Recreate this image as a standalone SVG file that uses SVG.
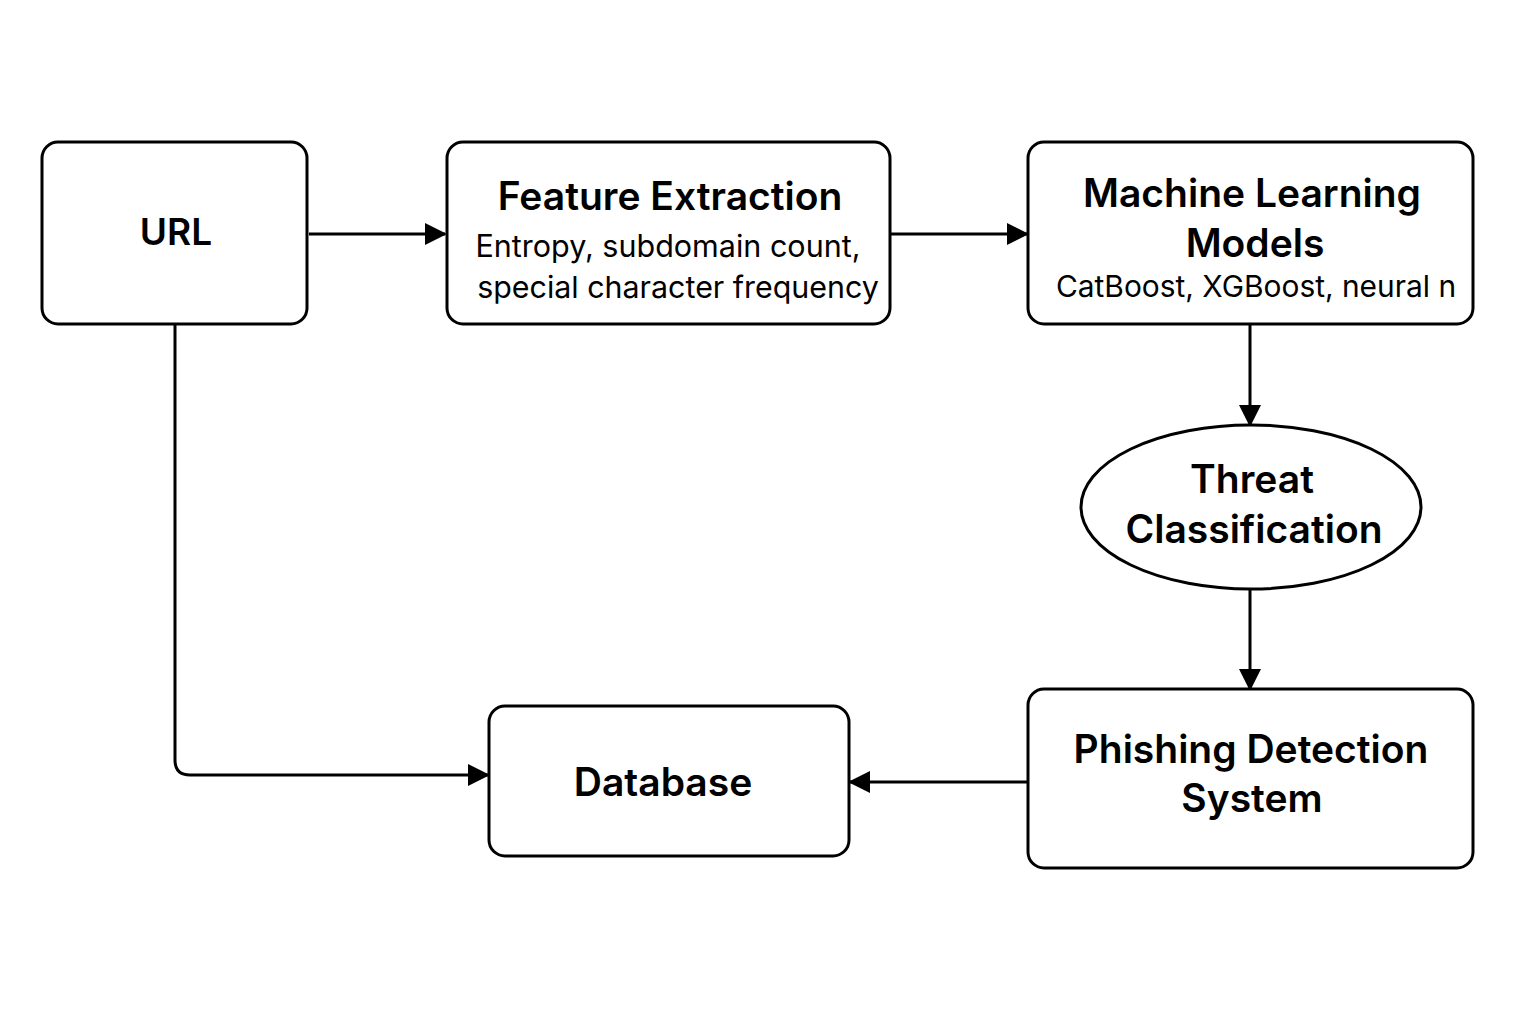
<svg xmlns="http://www.w3.org/2000/svg" width="1536" height="1024" viewBox="0 0 1536 1024">
<style>
.box{fill:#fff;stroke:#000;stroke-width:3}
.t{font-family:Inter,"Liberation Sans",sans-serif;font-weight:600;fill:#000;text-anchor:middle}
.s{font-family:Inter,"Liberation Sans",sans-serif;font-weight:400;fill:#000;text-anchor:middle}
.c{fill:none;stroke:#000;stroke-width:3}
</style>
<defs>
<marker id="ah" markerWidth="22" markerHeight="22" refX="20" refY="11" orient="auto" markerUnits="userSpaceOnUse">
<path d="M0,0 L22,11 L0,22 z" fill="#000"/>
</marker>
</defs>
<rect width="1536" height="1024" fill="#fff"/>
<g id="connectors">
<path class="c" d="M309,234 H445" marker-end="url(#ah)"/>
<path class="c" d="M891,234 H1027" marker-end="url(#ah)"/>
<path class="c" d="M1250,325 V425" marker-end="url(#ah)"/>
<path class="c" d="M1250,590 V689" marker-end="url(#ah)"/>
<path class="c" d="M1027,782 H850" marker-end="url(#ah)"/>
<path class="c" d="M175,325 V760 Q175,775 190,775 H488" marker-end="url(#ah)"/>
</g>
<g id="url">
<rect class="box" x="42" y="142" width="265" height="182" rx="16"/>
<text class="t" x="176" y="245" font-size="37">URL</text>
</g>
<g id="feature-extraction">
<rect class="box" x="447" y="142" width="443" height="182" rx="16"/>
<text class="t" x="670" y="210" font-size="39">Feature Extraction</text>
<text class="s" x="668" y="257" font-size="30.5">Entropy, subdomain count,</text>
<text class="s" x="678" y="298" font-size="30.4">special character frequency</text>
</g>
<g id="ml-models">
<rect class="box" x="1028" y="142" width="445" height="182" rx="16"/>
<text class="t" x="1252" y="207" font-size="39">Machine Learning</text>
<text class="t" x="1255" y="257" font-size="39">Models</text>
<text class="s" x="1256" y="297" font-size="29.9">CatBoost, XGBoost, neural n</text>
</g>
<g id="threat-classification">
<ellipse class="box" cx="1251" cy="507" rx="170" ry="82"/>
<text class="t" x="1252" y="493" font-size="39">Threat</text>
<text class="t" x="1254" y="543" font-size="39">Classification</text>
</g>
<g id="phishing-detection">
<rect class="box" x="1028" y="689" width="445" height="179" rx="16"/>
<text class="t" x="1251" y="763" font-size="39">Phishing Detection</text>
<text class="t" x="1252" y="812" font-size="39">System</text>
</g>
<g id="database">
<rect class="box" x="489" y="706" width="360" height="150" rx="16"/>
<text class="t" x="663" y="796" font-size="39">Database</text>
</g>
</svg>
